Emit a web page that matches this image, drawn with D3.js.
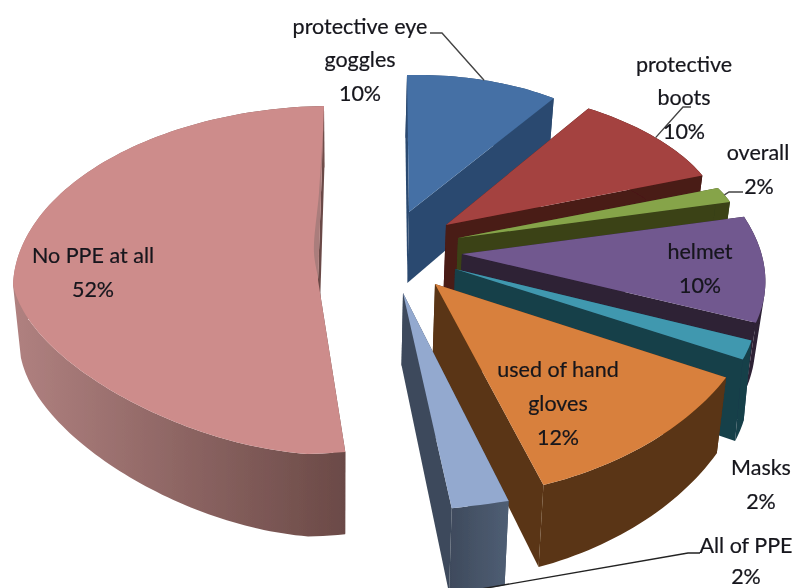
<!DOCTYPE html>
<html><head><meta charset="utf-8">
<script src="https://cdn.jsdelivr.net/npm/d3@7/dist/d3.min.js"></script>
<style>html,body{margin:0;padding:0;background:#fff;overflow:hidden}svg{display:block}
text{font-family:Lato,"Open Sans",sans-serif;font-size:21.5px;fill:#15151c;stroke:#15151c;stroke-width:.2;text-anchor:middle}</style>
</head><body><svg id="c" width="792" height="588"></svg>
<script>
const categories = ["protective eye goggles","protective boots","overall","helmet","Masks","used of hand gloves","All of PPE","No PPE at all"];
const values = [10,10,2,10,2,12,2,52];
const topColors = ["#4470a5","#a4423f","#86a44a","#71588f","#4198af","#d8803c","#93a9cf","#cd8c8b"];
const wallColors = ["#2c4a70","#4a1a17","#3a4218","#2d2035","#183f4a","#5a3414","#3e4a5c","#6b4a47"];

/* projection of every exploded slice: apex, ellipse basis vectors, wall depth */
const geometry = [
 {ax:409,ay:212,Ax:249,Bx:-2, Ay:-5, By:-137,d:71},
 {ax:446,ay:225,Ax:278,Bx:-26,Ay:-7, By:-139,d:68},
 {ax:458,ay:238,Ax:282,Bx:-27,Ay:-14,By:-119,d:70},
 {ax:462,ay:254,Ax:298,Bx:-57,Ay:-5, By:-172,d:62},
 {ax:455,ay:269,Ax:290,Bx:-80,Ay:-2, By:-172,d:76,shrink:0.019},
 {ax:435,ay:284,Ax:327,Bx:-28,Ay:-25,By:-214,d:70},
 {ax:403,ay:293,Ax:460,Bx:9,  Ay:-17,By:-219,d:72},
 {ax:318,ay:280,Ax:305,Bx:6,BxLow:11,Ay:-5, By:-174,d:72,flat:13,flatX:22}
];
const shrink = 0.024, shrinkX = 340, depthGrow = 0.06;

/* label lines: text, x, baseline y */
const labels = [
 ["protective eye",360,34],["goggles",360,67],["10%",360,101],
 ["protective",684,72],["boots",684,105],["10%",684,139],
 ["overall",758,160],["2%",759,194],
 ["helmet",700,259],["10%",700,293],
 ["used of hand",558,377],["gloves",558,411],["12%",558,445],
 ["Masks",761,475],["2%",761,509],
 ["All of PPE",746,553],["2%",746,584],
 ["No PPE at all",93,263],["52%",93,297]
];

const svg = d3.select("#c");
const defs = svg.append("defs");
defs.append("filter").attr("id","soft").attr("x",0).attr("y",0).attr("width",1).attr("height",1)
  .attr("filterUnits","objectBoundingBox")
  .append("feGaussianBlur").attr("stdDeviation",0.45);
const mkGrad=(id,a,b)=>{const g=defs.append("linearGradient").attr("id",id);
  g.append("stop").attr("offset",0).attr("stop-color",a);
  g.append("stop").attr("offset",1).attr("stop-color",b);};
mkGrad("wall7","#b08180","#6b4a47");
mkGrad("wall6","#3e4a5c","#4f5e74");

const color = d3.scaleOrdinal().domain(categories).range(topColors);
const wall = d3.scaleOrdinal().domain(categories).range(wallColors);
const pie = d3.pie().sort(null).value(d=>d.v).startAngle(0).endAngle(2*Math.PI);
const arcs = pie(categories.map((c,i)=>({c,v:values[i],g:geometry[i],i})));

const P=(g,a)=>{const s=Math.sin(a),cs=Math.cos(a);
  let y=g.ay+g.Ay*s+g.By*cs;
  const bx=(cs<0 && g.BxLow!==undefined)?g.BxLow:g.Bx;
  let x=g.ax+g.Ax*s+bx*cs;
  if(g.flat && a>Math.PI && a<1.5*Math.PI){const f=Math.abs(Math.sin(2*a));y-=g.flat*f;x+=g.flatX*f;}
  return [x,y];};
const bot=(g,p)=>[p[0]-(g.shrink||shrink)*(p[0]-shrinkX),p[1]+g.d+depthGrow*(p[1]-g.ay)];
const line=d3.line();
const root=svg.append("g").attr("filter","url(#soft)");
const order=[7,0,1,2,3,4,5,6];

order.forEach(i=>{
  const d=arcs[i],g=d.data.g,name=d.data.c;
  const n=Math.max(4,Math.ceil((d.endAngle-d.startAngle)*40));
  const ang=d3.range(n+1).map(k=>d.startAngle+(d.endAngle-d.startAngle)*k/n);
  const rim=ang.map(a=>P(g,a));
  const apex=[g.ax,g.ay];
  const G=root.append("g").attr("class","slice");
  const faceFill=wall(name);
  /* inner faces */
  [rim[0],rim[n]].forEach(p=>{
    G.append("path").attr("d",line([apex,p,bot(g,p),bot(g,apex)])+"Z").attr("fill",faceFill);
  });
  /* outer wall, swept rim to base; every quad wound the same way so overlaps stay filled */
  const fill=i===7?"url(#wall7)":i===6?"url(#wall6)":faceFill;
  const low=rim.map(p=>bot(g,p));
  let sweep="";
  for(let k=0;k<n;k++){
    const q=[rim[k],rim[k+1],low[k+1],low[k]];
    if(d3.polygonArea(q)<0) q.reverse();
    sweep+=line(q)+"Z";
  }
  G.append("path").attr("d",sweep).attr("fill",fill);
  /* top */
  G.append("path").attr("d",line([apex].concat(rim))+"Z").attr("fill",color(name));
  if(i===7){
    /* thin visible inner edge beside the apex */
    const e=rim[n],L=t=>[apex[0]+(e[0]-apex[0])*t,apex[1]+(e[1]-apex[1])*t];
    const o=(t,dx)=>{const p=L(t);return [p[0]+dx,p[1]];};
    G.append("path").attr("d",d3.line().curve(d3.curveCatmullRom)
      ([o(.9,0),o(.52,0),o(.13,0),o(.02,0)])+"L"+d3.line().curve(d3.curveCatmullRom)
      ([o(.02,0),o(.16,-5),o(.5,-2),o(.9,0)]).slice(1)+"Z").attr("fill","#aa7d7b");
  }
});

/* leader lines */
const mid=d=>(d.startAngle+d.endAngle)/2;
const lead=[
 {i:0,pts:[[430,33],[442,33]]},
 {i:1,pts:[[691,107],[683,107]]},
 {i:2,pts:[[743,192],[729,192]]},
 {i:6,pts:[[700,553],[688,553]],low:true}
];
lead.forEach(l=>{
  const d=arcs[l.i],g=d.data.g;let p=P(g,mid(d));if(l.low)p=bot(g,p);
  root.append("path").attr("d",line(l.pts.concat([p]))).attr("fill","none")
    .attr("stroke",l.low?"#222":"#444").attr("stroke-width",1.4);
});
root.selectAll("text.l").data(labels).join("text").attr("class","l")
  .attr("x",d=>d[1]).attr("y",d=>d[2]).text(d=>d[0]);
</script></body></html>
